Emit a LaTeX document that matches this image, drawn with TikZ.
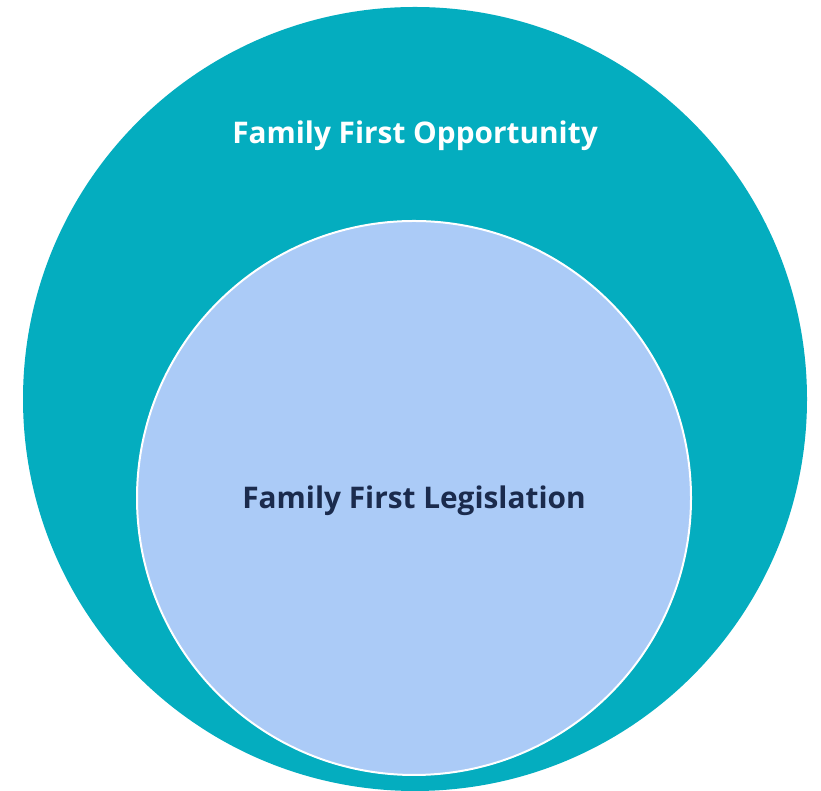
\documentclass[tikz,border=0pt]{standalone}
\usepackage{fontspec}
\setmainfont{Open Sans}
\definecolor{outerteal}{HTML}{04ADBF}
\definecolor{innerblue}{HTML}{ABCBF7}
\definecolor{navy}{HTML}{1B2B4D}
\tikzset{
  bigcircle/.style={circle, fill=outerteal, draw=none, minimum size=784pt, inner sep=0pt},
  smallcircle/.style={circle, fill=innerblue, draw=white, line width=2pt, minimum size=554pt, inner sep=0pt},
  lbl/.style={font=\fontsize{29.8}{34}\selectfont\bfseries, inner sep=0pt}
}
\begin{document}
\begin{tikzpicture}[x=1pt,y=1pt]
\useasboundingbox (0,0) rectangle (821,791);
\node[bigcircle] (outer) at (415,392) {};
\node[smallcircle] (inner) at (414,293) {};
\node[lbl, text=white] (otext) at (415,655) {Family First Opportunity};
\node[lbl, text=navy] (itext) at (414,290) {Family First Legislation};
\end{tikzpicture}
\end{document}
